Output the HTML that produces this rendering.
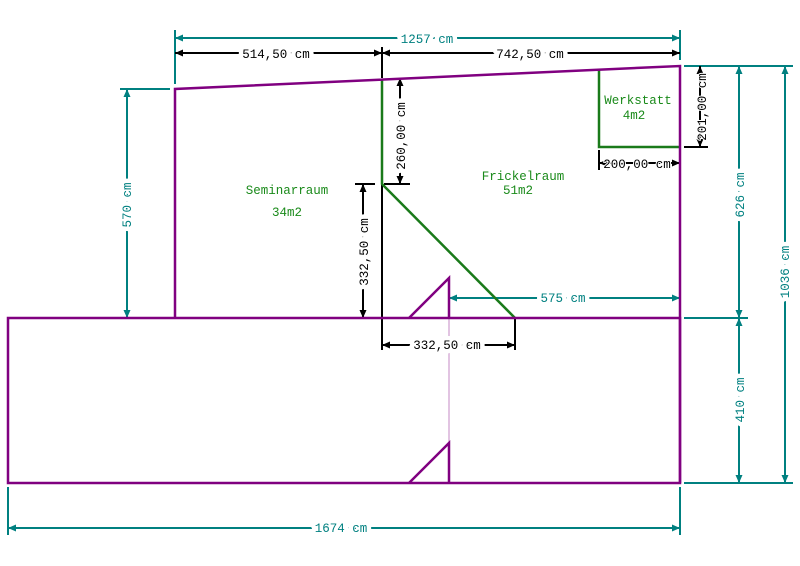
<!DOCTYPE html>
<html><head><style>
html,body{margin:0;padding:0;background:#fff;}
svg{display:block;}
text{font-family:"Liberation Mono",monospace;font-size:12.5px;}
.bg{paint-order:stroke;stroke:#fff;stroke-width:9px;stroke-linejoin:round;}
.bs{paint-order:stroke;stroke:#fff;stroke-width:2px;}
</style></head><body>
<svg width="800" height="566" viewBox="0 0 800 566" xmlns="http://www.w3.org/2000/svg">
<defs>
<marker id="at" markerWidth="10" markerHeight="10" refX="8" refY="4.5" orient="auto-start-reverse" markerUnits="userSpaceOnUse"><path d="M0,1 L8,4.5 L0,8 Z" fill="#008080"/></marker>
<marker id="ab" markerWidth="10" markerHeight="10" refX="8" refY="4.5" orient="auto-start-reverse" markerUnits="userSpaceOnUse"><path d="M0,1 L8,4.5 L0,8 Z" fill="#000"/></marker>
</defs>
<line x1="449" y1="318" x2="449" y2="443" stroke="#d8b0d8" stroke-width="1.5"/>
<g stroke="#008080" stroke-width="2" fill="none">
<line x1="175" y1="30" x2="175" y2="84"/>
<line x1="680" y1="30" x2="680" y2="60"/>
<line x1="175" y1="38" x2="680" y2="38" marker-start="url(#at)" marker-end="url(#at)"/>
<line x1="120" y1="89" x2="170" y2="89"/>
<line x1="127" y1="89" x2="127" y2="318" marker-start="url(#at)" marker-end="url(#at)"/>
<line x1="684" y1="66" x2="793" y2="66"/>
<line x1="684" y1="318" x2="748" y2="318"/>
<line x1="684" y1="483" x2="793" y2="483"/>
<line x1="739" y1="66" x2="739" y2="318" marker-start="url(#at)" marker-end="url(#at)"/>
<line x1="739" y1="318" x2="739" y2="483" marker-start="url(#at)" marker-end="url(#at)"/>
<line x1="785" y1="66" x2="785" y2="483" marker-start="url(#at)" marker-end="url(#at)"/>
<line x1="8" y1="487" x2="8" y2="535"/>
<line x1="680" y1="487" x2="680" y2="535"/>
<line x1="8" y1="528" x2="680" y2="528" marker-start="url(#at)" marker-end="url(#at)"/>
<line x1="449" y1="298" x2="680" y2="298" marker-start="url(#at)" marker-end="url(#at)"/>
</g>
<g stroke="#000" stroke-width="2" fill="none">
<line x1="382" y1="47" x2="382" y2="78"/>
<line x1="175" y1="53" x2="382" y2="53" marker-start="url(#ab)" marker-end="url(#ab)"/>
<line x1="382" y1="53" x2="680" y2="53" marker-start="url(#ab)" marker-end="url(#ab)"/>
<line x1="400" y1="78" x2="400" y2="184" marker-start="url(#ab)" marker-end="url(#ab)"/>
<line x1="384" y1="184" x2="410" y2="184"/>
<line x1="355" y1="184" x2="375" y2="184"/>
<line x1="363" y1="184" x2="363" y2="318" marker-start="url(#ab)" marker-end="url(#ab)"/>
<line x1="382" y1="184" x2="382" y2="350"/>
<line x1="515" y1="318" x2="515" y2="350"/>
<line x1="382" y1="345" x2="515" y2="345" marker-start="url(#ab)" marker-end="url(#ab)"/>
<line x1="700" y1="66" x2="700" y2="147" marker-start="url(#ab)" marker-end="url(#ab)"/>
<line x1="684" y1="147" x2="708" y2="147"/>
<line x1="599" y1="150" x2="599" y2="170"/>
<line x1="599" y1="163" x2="680" y2="163" marker-start="url(#ab)" marker-end="url(#ab)"/>
</g>
<g fill="#008080">
<text x="427" y="43" text-anchor="middle" class="bg">1257 cm</text>
<text x="341" y="532" text-anchor="middle" class="bg">1674 cm</text>
<text x="563" y="302" text-anchor="middle" class="bg">575 cm</text>
<text transform="translate(131,205) rotate(-90)" text-anchor="middle" class="bg">570 cm</text>
<text transform="translate(744,195) rotate(-90)" text-anchor="middle" class="bg">626 cm</text>
<text transform="translate(744,400) rotate(-90)" text-anchor="middle" class="bg">410 cm</text>
<text transform="translate(789,272) rotate(-90)" text-anchor="middle" class="bg">1036 cm</text>
</g>
<g fill="#000">
<text x="276" y="58" text-anchor="middle" class="bg">514,50 cm</text>
<text x="530" y="58" text-anchor="middle" class="bg">742,50 cm</text>
<text transform="translate(405,136) rotate(-90)" text-anchor="middle" class="bg">260,00 cm</text>
<text transform="translate(368,252) rotate(-90)" text-anchor="middle" class="bg">332,50 cm</text>
<text x="447" y="349" text-anchor="middle" class="bg">332,50 cm</text>
<text transform="translate(706,107) rotate(-90)" text-anchor="middle" class="bs">201,00 cm</text>
<text x="637" y="168" text-anchor="middle" class="bs">200,00 cm</text>
</g>
<g stroke="#1a7a1a" stroke-width="2.5" fill="none">
<polyline points="382,79 382,184 515,318"/>
<polyline points="599,70 599,147 680,147"/>
</g>
<g stroke="#800080" stroke-width="2.5" fill="none">
<polyline points="175,318 175,89 680,66 680,483"/>
<rect x="8" y="318" width="672" height="165"/>
<polyline points="409,318 449,278 449,318"/>
<polyline points="409,483 449,443 449,483"/>
</g>
<g fill="#1a8a1a">
<text x="287" y="194" text-anchor="middle">Seminarraum</text>
<text x="287" y="216" text-anchor="middle">34m2</text>
<text x="523" y="180" text-anchor="middle">Frickelraum</text>
<text x="518" y="194" text-anchor="middle">51m2</text>
<text x="638" y="104" text-anchor="middle">Werkstatt</text>
<text x="634" y="119" text-anchor="middle">4m2</text>
</g>
</svg>
</body></html>
